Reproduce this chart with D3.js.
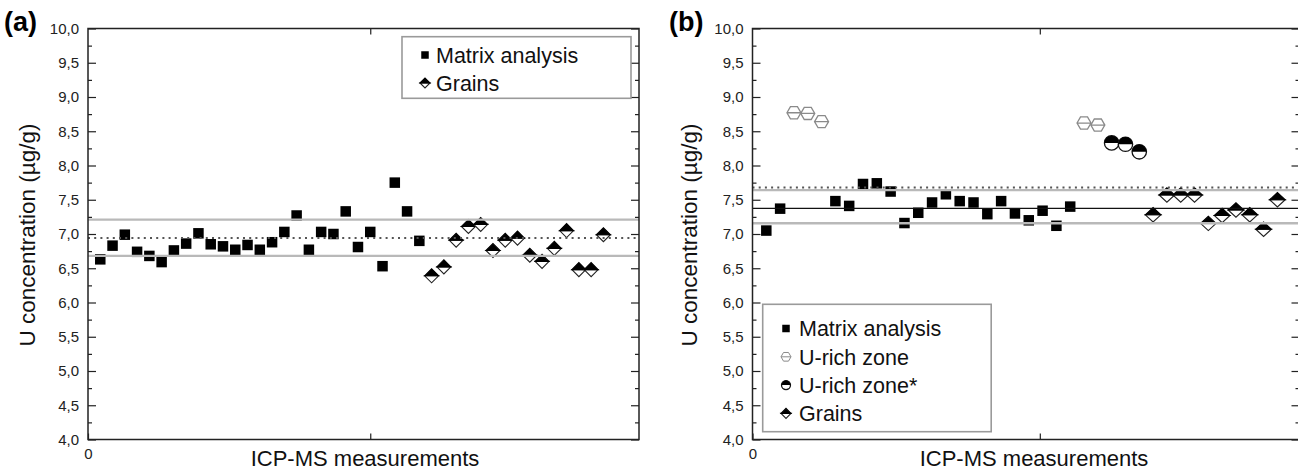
<!DOCTYPE html>
<html>
<head>
<meta charset="utf-8">
<script src="https://cdn.jsdelivr.net/npm/d3@7"></script>
<style>
  body { margin: 0; background: #fff; }
  svg { display: block; font-family: "Liberation Sans", Arial, sans-serif; }
</style>
</head>
<body>
<svg id="chart" width="1298" height="471"></svg>
<script>
// y axis (both panels)
const yTicks = [4.0, 4.5, 5.0, 5.5, 6.0, 6.5, 7.0, 7.5, 8.0, 8.5, 9.0, 9.5, 10.0];
const yMinor = [4.25, 4.75, 5.25, 5.75, 6.25, 6.75, 7.25, 7.75, 8.25, 8.75, 9.25, 9.75];

// panel (a)
const matrixA_n = [1, 2, 3, 4, 5, 6, 7, 8, 9, 10, 11, 12, 13, 14, 15, 16, 17, 18, 19, 20, 21, 22, 23, 24, 25, 26, 27];
const matrixA = [6.63, 6.83, 6.99, 6.74, 6.68, 6.59, 6.76, 6.86, 7.01, 6.85, 6.82, 6.77, 6.84, 6.77, 6.88, 7.03, 7.27, 6.77, 7.03, 7.00, 7.33, 6.81, 7.03, 6.53, 7.75, 7.33, 6.90];
const grainsA_n = [28, 29, 30, 31, 32, 33, 34, 35, 36, 37, 38, 39, 40, 41, 42];
const grainsA = [6.39, 6.52, 6.91, 7.11, 7.14, 6.76, 6.91, 6.94, 6.69, 6.60, 6.79, 7.05, 6.48, 6.48, 6.99];
const greyLinesA = [7.21, 6.68];
const dottedA = 6.94;

// panel (b)
const matrixB_n = [1, 2, 6, 7, 8, 9, 10, 11, 12, 13, 14, 15, 16, 17, 18, 19, 20, 21, 22, 23];
const matrixB = [7.05, 7.37, 7.48, 7.41, 7.73, 7.74, 7.62, 7.16, 7.31, 7.46, 7.58, 7.48, 7.46, 7.29, 7.48, 7.30, 7.20, 7.34, 7.12, 7.40];
const uRichB_n = [3, 4, 5, 24, 25];
const uRichB = [8.77, 8.76, 8.64, 8.62, 8.59];
const uRichStarB_n = [26, 27, 28];
const uRichStarB = [8.33, 8.31, 8.20];
const grainsB_n = [29, 30, 31, 32, 33, 34, 35, 36, 37, 38];
const grainsB = [7.28, 7.57, 7.57, 7.57, 7.155, 7.27, 7.35, 7.28, 7.07, 7.50];
const greyLinesB = [7.64, 7.156];
const blackLineB = 7.375;
const dottedB = 7.68;

const svg = d3.select("#chart");
const comma = d3.formatLocale({ decimal: ",", thousands: ".", grouping: [3], currency: ["", ""] }).format(".1f");

const GREY = "#b9b9b9";

function square(g, s) {
  g.append("rect").attr("x", -s / 2).attr("y", -s / 2).attr("width", s).attr("height", s).attr("fill", "#000");
}
function diamond(g, w, h) {
  g.append("path").attr("d", `M${-w},0L${w},0L0,${h}Z`).attr("fill", "#fff").attr("stroke", "#222").attr("stroke-width", 1.1);
  g.append("path").attr("d", `M${-w},0L0,${-h}L${w},0Z`).attr("fill", "#000").attr("stroke", "#000").attr("stroke-width", 1.1);
}
function hexagon(g, r, sw) {
  const h = r * 0.866;
  g.append("path")
    .attr("d", `M${-r},0L${-r / 2},${-h}L${r / 2},${-h}L${r},0L${r / 2},${h}L${-r / 2},${h}Z M${-r},0L${r},0`)
    .attr("fill", "#fff").attr("stroke", "#8a8a8a").attr("stroke-width", sw);
}
function halfCircle(g, r) {
  g.append("circle").attr("r", r).attr("fill", "#fff").attr("stroke", "#111").attr("stroke-width", 1.3);
  g.append("path").attr("d", `M${-r},0A${r},${r} 0 0,1 ${r},0Z`).attr("fill", "#000");
}

function drawPanel(cfg) {
  const g = svg.append("g");
  const x = d3.scaleLinear().domain([0, cfg.xMax]).range([cfg.left, cfg.right]);
  const y = d3.scaleLinear().domain([4, 10]).range([439.5, 28.5]);

  // markers
  cfg.series.forEach(s => {
    g.append("g").selectAll("g")
      .data(s.n.map((n, i) => ({ n, v: s.v[i] })))
      .join("g")
      .attr("transform", d => `translate(${x(d.n)},${y(d.v)})`)
      .each(function () { s.draw(d3.select(this)); });
  });

  // reference lines, drawn over the markers
  const lines = g.append("g");
  cfg.grey.forEach(v => lines.append("line")
    .attr("x1", cfg.left).attr("x2", cfg.right).attr("y1", y(v)).attr("y2", y(v))
    .attr("stroke", GREY).attr("stroke-width", 2.4));
  if (cfg.black != null) lines.append("line")
    .attr("x1", cfg.left).attr("x2", cfg.right).attr("y1", y(cfg.black)).attr("y2", y(cfg.black))
    .attr("stroke", "#111").attr("stroke-width", 1.2);
  lines.append("line")
    .attr("x1", cfg.left).attr("x2", cfg.right).attr("y1", y(cfg.dotted)).attr("y2", y(cfg.dotted))
    .attr("stroke", "#555").attr("stroke-width", 2).attr("stroke-dasharray", "2,4.2");

  // axes
  g.append("g").attr("transform", `translate(${cfg.left},0)`)
    .call(d3.axisLeft(y).tickValues(yTicks).tickSize(-8).tickPadding(9).tickFormat(comma));
  g.append("g").attr("transform", `translate(${cfg.left},0)`)
    .call(d3.axisLeft(y).tickValues(yMinor).tickSize(-4).tickFormat(""));
  g.append("g").attr("transform", `translate(${cfg.right},0)`)
    .call(d3.axisRight(y).tickValues(yTicks).tickSize(-8).tickFormat(""));
  g.append("g").attr("transform", `translate(${cfg.right},0)`)
    .call(d3.axisRight(y).tickValues(yMinor).tickSize(-4).tickFormat(""));
  g.append("g").attr("transform", "translate(0,439.5)")
    .call(d3.axisBottom(x).tickValues([0, cfg.midTick]).tickSize(-6).tickPadding(9).tickFormat(d => d === 0 ? "0" : ""));
  g.append("g").attr("transform", "translate(0,28.5)")
    .call(d3.axisTop(x).tickValues([cfg.midTick]).tickSize(-6).tickFormat(""));
  g.selectAll(".domain").remove();
  g.selectAll(".tick line").attr("stroke", "#222").attr("stroke-width", 1.2);
  g.selectAll(".tick text").attr("font-size", 15).attr("fill", "#222")
    .attr("font-family", "Liberation Sans, Arial, sans-serif");

  g.append("rect")
    .attr("x", cfg.left).attr("y", 28.5).attr("width", cfg.right - cfg.left).attr("height", 411)
    .attr("fill", "none").attr("stroke", "#222").attr("stroke-width", 1.5);

  // titles
  g.append("text").attr("x", cfg.tagX).attr("y", 31).attr("font-size", 27).attr("font-weight", "bold")
    .text(cfg.tag);
  g.append("text").attr("transform", `translate(${cfg.yTitleX},235) rotate(-90)`)
    .attr("text-anchor", "middle").attr("dy", "0.35em").attr("font-size", 22.5).attr("fill", "#111")
    .text("U concentration (µg/g)");
  g.append("text").attr("x", cfg.xTitleX).attr("y", 465.5).attr("text-anchor", "middle")
    .attr("font-size", 22).attr("fill", "#111").text("ICP-MS measurements");

  // legend
  const L = cfg.legend;
  g.append("rect").attr("x", L.x).attr("y", L.y).attr("width", L.w).attr("height", L.h)
    .attr("fill", "#fff").attr("stroke", "#9a9a9a").attr("stroke-width", 1.6);
  L.items.forEach((it, i) => {
    const cy = L.first + i * L.step;
    const m = g.append("g").attr("transform", `translate(${L.mx},${cy})`);
    it.draw(m);
    g.append("text").attr("x", L.tx).attr("y", cy).attr("dy", "0.36em")
      .attr("font-size", 21.5).attr("fill", "#111").text(it.label);
  });
}

drawPanel({
  tag: "(a)", tagX: 4, yTitleX: 27, xTitleX: 365,
  left: 88, right: 639, xMax: 44.9, midTick: 23,
  series: [
    { n: matrixA_n, v: matrixA, draw: m => square(m, 10.5) },
    { n: grainsA_n, v: grainsA, draw: m => diamond(m, 7, 7) }
  ],
  grey: greyLinesA, dotted: dottedA, black: null,
  legend: {
    x: 402, y: 36.7, w: 229, h: 61.6, first: 55, step: 28, mx: 425, tx: 436,
    items: [
      { label: "Matrix analysis", draw: m => square(m, 7.5) },
      { label: "Grains", draw: m => diamond(m, 5, 5) }
    ]
  }
});

drawPanel({
  tag: "(b)", tagX: 669, yTitleX: 689, xTitleX: 1034,
  left: 752.5, right: 1299.5, xMax: 39.6, midTick: 20.8,
  series: [
    { n: matrixB_n, v: matrixB, draw: m => square(m, 10.5) },
    { n: uRichB_n, v: uRichB, draw: m => hexagon(m, 7, 1.3) },
    { n: uRichStarB_n, v: uRichStarB, draw: m => halfCircle(m, 7.2) },
    { n: grainsB_n, v: grainsB, draw: m => diamond(m, 7.8, 7.2) }
  ],
  grey: greyLinesB, dotted: dottedB, black: blackLineB,
  legend: {
    x: 762.7, y: 304.3, w: 228.5, h: 127.4, first: 328.5, step: 28.3, mx: 786, tx: 799,
    items: [
      { label: "Matrix analysis", draw: m => square(m, 7.5) },
      { label: "U-rich zone", draw: m => hexagon(m, 5, 1) },
      { label: "U-rich zone*", draw: m => halfCircle(m, 4.5) },
      { label: "Grains", draw: m => diamond(m, 5, 5) }
    ]
  }
});
</script>
</body>
</html>
